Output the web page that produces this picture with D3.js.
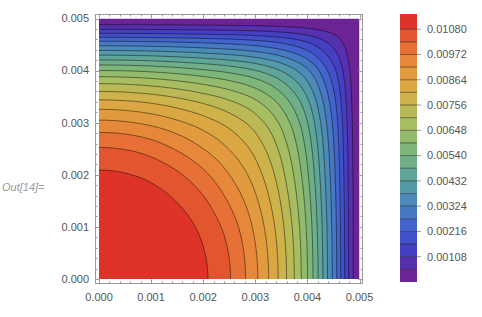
<!DOCTYPE html>
<html lang="en">
<head>
  <meta charset="UTF-8">
  <title>Contour plot</title>
  <style>
    body { margin: 0; background: #fff; }
    text { font-family: "Liberation Sans", Arial, sans-serif; }
  </style>
</head>
<body>
  <svg class="contour-chart"></svg>
  <script src="https://cdn.jsdelivr.net/npm/d3@7"></script>
  <script>
    // grid coordinates (same for x and y)
    let xVals = [0, 0.0005, 0.001, 0.0015, 0.002, 0.0025, 0.003, 0.0035, 0.004, 0.0045, 0.005]
    let yVals = [0, 0.0005, 0.001, 0.0015, 0.002, 0.0025, 0.003, 0.0035, 0.004, 0.0045, 0.005]

    // values, zGrid[row = y index][col = x index]
    let zGrid = [
      [0.011450, 0.011441, 0.011380, 0.011212, 0.010886, 0.010300, 0.009300, 0.007900, 0.005950, 0.003100, 0],
      [0.011441, 0.011425, 0.011351, 0.011171, 0.010832, 0.010235, 0.009236, 0.007853, 0.005919, 0.003086, 0],
      [0.011380, 0.011351, 0.011251, 0.011037, 0.010662, 0.010028, 0.009048, 0.007716, 0.005828, 0.003045, 0],
      [0.011212, 0.011171, 0.011037, 0.010777, 0.010348, 0.009658, 0.008750, 0.007494, 0.005679, 0.002977, 0],
      [0.010886, 0.010832, 0.010662, 0.010348, 0.009855, 0.009183, 0.008372, 0.007203, 0.005481, 0.002886, 0],
      [0.010300, 0.010235, 0.010028, 0.009658, 0.009183, 0.008617, 0.007911, 0.006846, 0.005236, 0.002766, 0],
      [0.009300, 0.009236, 0.009048, 0.008750, 0.008372, 0.007911, 0.007301, 0.006348, 0.004878, 0.002589, 0],
      [0.007900, 0.007853, 0.007716, 0.007494, 0.007203, 0.006846, 0.006348, 0.005552, 0.004290, 0.002285, 0],
      [0.005950, 0.005919, 0.005828, 0.005679, 0.005481, 0.005236, 0.004878, 0.004290, 0.003326, 0.001778, 0],
      [0.003100, 0.003086, 0.003045, 0.002977, 0.002886, 0.002766, 0.002589, 0.002285, 0.001778, 0.000956, 0],
      [0, 0, 0, 0, 0, 0, 0, 0, 0, 0, 0]
    ]

    let contourLevels = [0.00054, 0.00108, 0.00162, 0.00216, 0.00270, 0.00324, 0.00378, 0.00432, 0.00486, 0.00540,
      0.00594, 0.00648, 0.00702, 0.00756, 0.00810, 0.00864, 0.00918, 0.00972, 0.01026, 0.01080]

    let axisTicks = [0, 0.001, 0.002, 0.003, 0.004, 0.005]
    let axisTickLabels = ['0.000', '0.001', '0.002', '0.003', '0.004', '0.005']
    let legendTicks = [0.00108, 0.00216, 0.00324, 0.00432, 0.00540, 0.00648, 0.00756, 0.00864, 0.00972, 0.01080]
    let legendTickLabels = ['0.00108', '0.00216', '0.00324', '0.00432', '0.00540', '0.00648', '0.00756', '0.00864', '0.00972', '0.01080']

    let svgWidth = 482, svgHeight = 317
    let svg = d3.select('svg')
      .attr('width', svgWidth)
      .attr('height', svgHeight)

    let x = d3.scaleLinear().domain([0, 0.005]).range([99, 359.5])
    let y = d3.scaleLinear().domain([0, 0.005]).range([279, 18.5])

    let zMin = 0, zMax = d3.max(zGrid.flat())

    // Mathematica "Rainbow"-like gradient
    let rainbow = d3.scaleLinear()
      .domain([0, 0.1, 0.2, 0.3, 0.4, 0.5, 0.6, 0.7, 0.8, 0.9, 1])
      .range(['rgb(120,28,134)', 'rgb(70,56,192)', 'rgb(65,95,205)', 'rgb(75,137,186)', 'rgb(95,166,152)',
        'rgb(128,183,120)', 'rgb(172,190,94)', 'rgb(212,176,70)', 'rgb(230,148,60)', 'rgb(230,98,50)', 'rgb(217,33,36)'])
      .clamp(true)

    let bandEdges = [zMin].concat(contourLevels, [zMax])
    let bandColor = i => rainbow(((bandEdges[i] + bandEdges[i + 1]) / 2 - zMin) / (zMax - zMin))

    // smooth the coarse grid for drawing (Catmull-Rom)
    let N = xVals.length, step = 10, nFine = (N - 1) * step + 1
    function cr(a, b, c, d, t) {
      return 0.5 * (2 * b + (c - a) * t + (2 * a - 5 * b + 4 * c - d) * t * t + (3 * b - a - 3 * c + d) * t * t * t)
    }
    function at(arr, i) {
      if (i < 0) return arr[-i]          // mirror at the symmetry axis
      if (i > N - 1) return arr[N - 1]   // flatten at the far edge
      return arr[i]
    }
    function sample(arr, u) {
      let i = Math.min(Math.floor(u), N - 2), t = u - i
      return cr(at(arr, i - 1), at(arr, i), at(arr, i + 1), at(arr, i + 2), t)
    }
    let rowsFine = zGrid.map(row => d3.range(nFine).map(k => sample(row, k / step)))
    let values = new Array(nFine * nFine)
    for (let i = 0; i < nFine; i++) {
      let col = rowsFine.map(r => r[i])
      for (let j = 0; j < nFine; j++) values[j * nFine + i] = sample(col, j / step)
    }

    let gx = d3.scaleLinear().domain([0.5, nFine - 0.5]).range([x(0), x(0.005)])
    let gy = d3.scaleLinear().domain([0.5, nFine - 0.5]).range([y(0), y(0.005)])
    let path = d3.geoPath(d3.geoTransform({
      point: function (px, py) { this.stream.point(gx(px), gy(py)) }
    }))

    let contours = d3.contours().size([nFine, nFine]).thresholds(contourLevels)(values)

    svg.append('clipPath').attr('id', 'plot-clip')
      .append('rect')
      .attr('x', x(0)).attr('y', y(0.005))
      .attr('width', x(0.005) - x(0)).attr('height', y(0) - y(0.005))

    let plot = svg.append('g').attr('clip-path', 'url(#plot-clip)')

    plot.append('rect')
      .attr('x', x(0)).attr('y', y(0.005))
      .attr('width', x(0.005) - x(0)).attr('height', y(0) - y(0.005))
      .attr('fill', bandColor(0))

    plot.selectAll('path.band')
      .data(contours)
      .enter()
      .append('path')
      .attr('class', 'band')
      .attr('d', path)
      .attr('fill', (d, i) => bandColor(i + 1))

    plot.selectAll('path.line')
      .data(contours)
      .enter()
      .append('path')
      .attr('class', 'line')
      .attr('d', path)
      .attr('fill', 'none')
      .attr('stroke', '#000')
      .attr('stroke-opacity', 0.5)
      .attr('stroke-width', 0.9)

    // frame with inward ticks
    let fx0 = 95.5, fx1 = 362.5, fy0 = 14.5, fy1 = 283.5
    let frameColor = '#999'
    svg.append('rect')
      .attr('x', fx0).attr('y', fy0)
      .attr('width', fx1 - fx0).attr('height', fy1 - fy0)
      .attr('fill', 'none').attr('stroke', frameColor).attr('stroke-width', 1)

    let minorTicks = d3.range(0, 26).map(k => k * 0.0002)
    let ticks = svg.append('g').attr('stroke', frameColor).attr('stroke-width', 1)
    minorTicks.forEach(v => {
      let major = Math.abs(v / 0.001 - Math.round(v / 0.001)) < 1e-6
      let len = major ? 4 : 2
      let px = Math.round(x(v)) + 0.5, py = Math.round(y(v)) + 0.5
      ticks.append('line').attr('x1', px).attr('x2', px).attr('y1', fy1).attr('y2', fy1 - len)
      ticks.append('line').attr('x1', px).attr('x2', px).attr('y1', fy0).attr('y2', fy0 + len)
      ticks.append('line').attr('y1', py).attr('y2', py).attr('x1', fx0).attr('x2', fx0 + len)
      ticks.append('line').attr('y1', py).attr('y2', py).attr('x1', fx1).attr('x2', fx1 - len)
    })

    let labelColor = '#555'
    svg.selectAll('text.xlab')
      .data(axisTicks)
      .enter()
      .append('text')
      .attr('x', d => x(d))
      .attr('y', 301)
      .attr('text-anchor', 'middle')
      .attr('font-size', 11)
      .attr('fill', labelColor)
      .text((d, i) => axisTickLabels[i])

    svg.selectAll('text.ylab')
      .data(axisTicks)
      .enter()
      .append('text')
      .attr('x', 89)
      .attr('y', d => y(d))
      .attr('dy', '0.35em')
      .attr('text-anchor', 'end')
      .attr('font-size', 11)
      .attr('fill', labelColor)
      .text((d, i) => axisTickLabels[i])

    // colour bar legend
    let lx0 = 400, lx1 = 417
    let ly = d3.scaleLinear().domain([zMin, zMax]).range([282, 14])
    let legend = svg.append('g')
    legend.selectAll('rect')
      .data(d3.range(bandEdges.length - 1))
      .enter()
      .append('rect')
      .attr('x', lx0)
      .attr('width', lx1 - lx0)
      .attr('y', i => ly(bandEdges[i + 1]))
      .attr('height', i => ly(bandEdges[i]) - ly(bandEdges[i + 1]))
      .attr('fill', i => bandColor(i))
    legend.selectAll('line.sep')
      .data(contourLevels)
      .enter()
      .append('line')
      .attr('x1', lx0).attr('x2', lx1)
      .attr('y1', d => ly(d)).attr('y2', d => ly(d))
      .attr('stroke', '#000').attr('stroke-opacity', 0.5).attr('stroke-width', 0.9)
    legend.selectAll('line.tick')
      .data(legendTicks)
      .enter()
      .append('line')
      .attr('x1', lx1).attr('x2', lx1 + 4)
      .attr('y1', d => ly(d)).attr('y2', d => ly(d))
      .attr('stroke', frameColor)
    legend.selectAll('text')
      .data(legendTicks)
      .enter()
      .append('text')
      .attr('x', 427)
      .attr('y', d => ly(d))
      .attr('dy', '0.35em')
      .attr('font-size', 11)
      .attr('fill', labelColor)
      .text((d, i) => legendTickLabels[i])

    svg.append('text')
      .attr('x', 2)
      .attr('y', 191)
      .attr('font-size', 11)
      .attr('font-style', 'italic')
      .attr('fill', '#999')
      .text('Out[14]=')
  </script>
</body>
</html>
